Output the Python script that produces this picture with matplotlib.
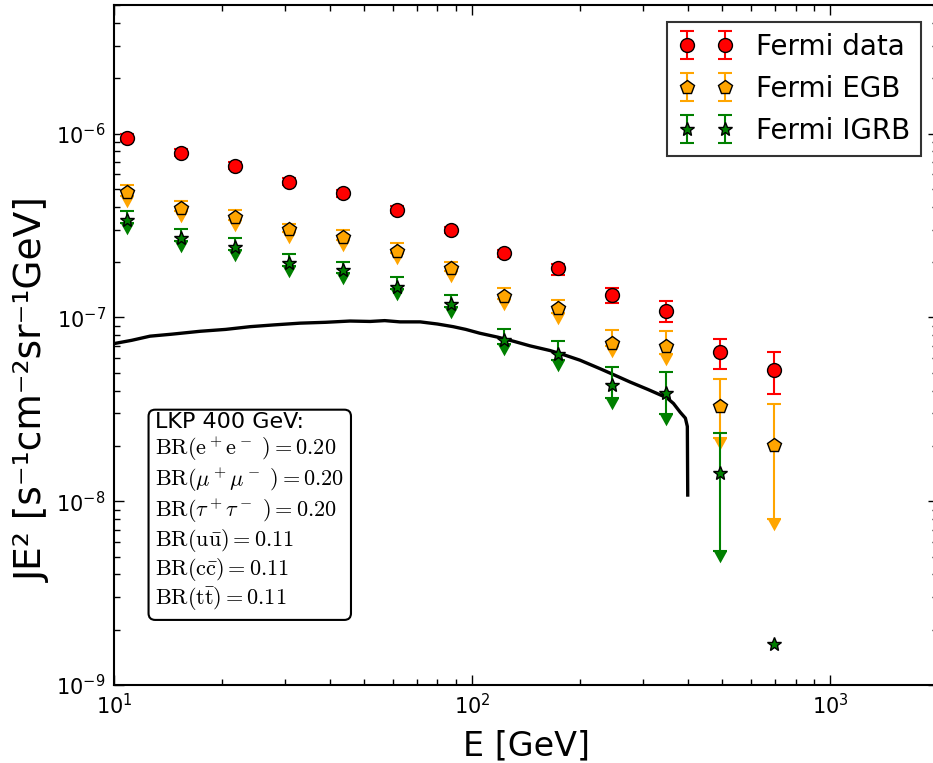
import numpy as np
import matplotlib
matplotlib.use('Agg')
import matplotlib.pyplot as plt

# energies of the Fermi bins [GeV]
E = [10.9, 15.4, 21.8, 30.8, 43.6, 61.6, 87.1, 123, 174, 246, 348, 492, 695]

# Fermi data (red)
data_y = [9.5e-7, 7.88e-7, 6.7e-7, 5.48e-7, 4.72e-7, 3.86e-7, 3.0e-7, 2.23e-7, 1.85e-7, 1.32e-7, 1.08e-7, 6.45e-8, 5.15e-8]
data_hi = [9.9e-7, 8.2e-7, 6.98e-7, 5.7e-7, 4.9e-7, 4.02e-7, 3.12e-7, 2.33e-7, 1.94e-7, 1.44e-7, 1.22e-7, 7.59e-8, 6.45e-8]
data_lo = [9.1e-7, 7.55e-7, 6.42e-7, 5.26e-7, 4.54e-7, 3.7e-7, 2.88e-7, 2.13e-7, 1.69e-7, 1.19e-7, 9.4e-8, 5.21e-8, 3.82e-8]

# Fermi EGB (orange)
egb_y = [4.78e-7, 3.91e-7, 3.5e-7, 3.01e-7, 2.72e-7, 2.31e-7, 1.85e-7, 1.3e-7, 1.12e-7, 7.22e-8, 6.96e-8, 3.28e-8, 2.02e-8]
egb_hi = [5.22e-7, 4.27e-7, 3.82e-7, 3.24e-7, 2.97e-7, 2.53e-7, 2.01e-7, 1.44e-7, 1.25e-7, 8.5e-8, 8.39e-8, 4.6e-8, 3.37e-8]
egb_lo = [4.6e-7, 3.77e-7, 3.38e-7, 2.9e-7, 2.62e-7, 2.23e-7, 1.79e-7, 1.26e-7, 1.06e-7, 6.96e-8, 6.29e-8, 2.2e-8, 8.0e-9]

# Fermi IGRB (green)
igrb_y = [3.37e-7, 2.69e-7, 2.4e-7, 1.97e-7, 1.8e-7, 1.47e-7, 1.18e-7, 7.5e-8, 6.29e-8, 4.27e-8, 3.86e-8, 1.42e-8, 1.67e-9]
igrb_hi = [3.77e-7, 3.01e-7, 2.69e-7, 2.2e-7, 1.99e-7, 1.65e-7, 1.33e-7, 8.61e-8, 7.41e-8, 5.35e-8, 5.03e-8, 2.34e-8, np.nan]
igrb_lo = [3.27e-7, 2.61e-7, 2.33e-7, 1.91e-7, 1.75e-7, 1.43e-7, 1.14e-7, 7.13e-8, 5.83e-8, 3.63e-8, 2.97e-8, 5.35e-9, np.nan]

# LKP 400 GeV spectrum (black)
curve_E = [10.0, 11.2, 12.6, 14.5, 17.4, 20.5, 24.0, 28.0, 33.1, 39.0, 45.6, 51.9, 57.0, 62.9, 71.6, 80.0, 88.5, 96.0,
           105, 118, 131, 145, 165, 183, 200, 228, 250, 276, 310, 350, 365, 381, 394, 399, 400]
curve_y = [7.2e-8, 7.5e-8, 7.9e-8, 8.1e-8, 8.4e-8, 8.6e-8, 8.9e-8, 9.1e-8, 9.3e-8, 9.4e-8, 9.55e-8, 9.5e-8, 9.6e-8,
           9.45e-8, 9.45e-8, 9.2e-8, 8.9e-8, 8.6e-8, 8.2e-8, 7.8e-8, 7.4e-8, 7.0e-8, 6.6e-8, 6.2e-8, 5.85e-8,
           5.25e-8, 4.85e-8, 4.45e-8, 4.05e-8, 3.65e-8, 3.4e-8, 3.05e-8, 2.83e-8, 2.55e-8, 1.08e-8]

box_text = ('LKP 400 GeV:\n'
            r'$\mathrm{BR(e^+e^-\ )}{=}0.20$' + '\n'
            r'$\mathrm{BR}(\mu^+\mu^-\ ){=}0.20$' + '\n'
            r'$\mathrm{BR}(\tau^+\tau^-\ ){=}0.20$' + '\n'
            r'$\mathrm{BR(u\bar{u})}{=}0.11$' + '\n'
            r'$\mathrm{BR(c\bar{c})}{=}0.11$' + '\n'
            r'$\mathrm{BR(t\bar{t})}{=}0.11$')

# downward arrow head with its base on the point
caret = [(-0.55, 0), (0.55, 0), (0, -1), (-0.55, 0)]


def yerr(y, lo, hi):
    y, lo, hi = np.array(y), np.array(lo), np.array(hi)
    return [y - lo, hi - y]


fig = plt.figure(figsize=(9.33, 7.63), dpi=100)
ax = fig.add_axes([0.1222, 0.1022, 0.8832, 0.8912])

ax.plot(curve_E, curve_y, color='black', lw=2.4, zorder=1.5)

ax.errorbar(E, data_y, yerr=yerr(data_y, data_lo, data_hi), fmt='o', color='red', mfc='red', mec='black',
            ms=10, elinewidth=1.5, capsize=5, capthick=1.5, label='Fermi data')
ax.errorbar(E, egb_y, yerr=yerr(egb_y, egb_lo, egb_hi), fmt='p', color='orange', mfc='orange', mec='black',
            ms=10.5, elinewidth=1.5, capsize=5, capthick=1.5, label='Fermi EGB')
ax.plot(E, egb_lo, ls='none', marker=caret, ms=17, color='orange', mew=0, zorder=1.8)
ax.errorbar(E, igrb_y, yerr=yerr(igrb_y, igrb_lo, igrb_hi), fmt='*', color='green', mfc='green', mec='black',
            ms=10.5, elinewidth=1.5, capsize=5, capthick=1.5, label='Fermi IGRB')
ax.plot(E, igrb_lo, ls='none', marker=caret, ms=17, color='green', mew=0, zorder=1.8)

ax.set_xscale('log')
ax.set_yscale('log')
ax.set_xlim(10, 2000)
ax.set_ylim(1e-9, 5e-6)

ax.set_xlabel('E [GeV]', fontsize=24)
ax.xaxis.set_label_coords(0.5, -0.065)
ax.set_ylabel('JE² [s⁻¹cm⁻²sr⁻¹GeV]', fontsize=27)
ax.yaxis.set_label_coords(-0.077, 0.435)
ax.tick_params(which='both', direction='in', top=True, right=True, labelsize=15)
ax.tick_params(which='major', length=7, width=1, pad=6)
ax.tick_params(which='minor', length=4, width=1)
for s in ax.spines.values():
    s.set_linewidth(1.5)

leg = ax.legend(loc='upper right', numpoints=2, fontsize=20, fancybox=False, borderaxespad=0.6,
                labelspacing=0.5)
leg.get_frame().set_edgecolor('black')
leg.get_frame().set_linewidth(1.5)

t = ax.text(0.05, 0.401, box_text, transform=ax.transAxes, fontsize=16, va='top', ha='left',
            linespacing=1.12, bbox=dict(boxstyle='round,pad=0.3', fc='white', ec='black', lw=1.5))
t.set_math_fontfamily('cm')

fig.savefig('out.png', dpi=100)
